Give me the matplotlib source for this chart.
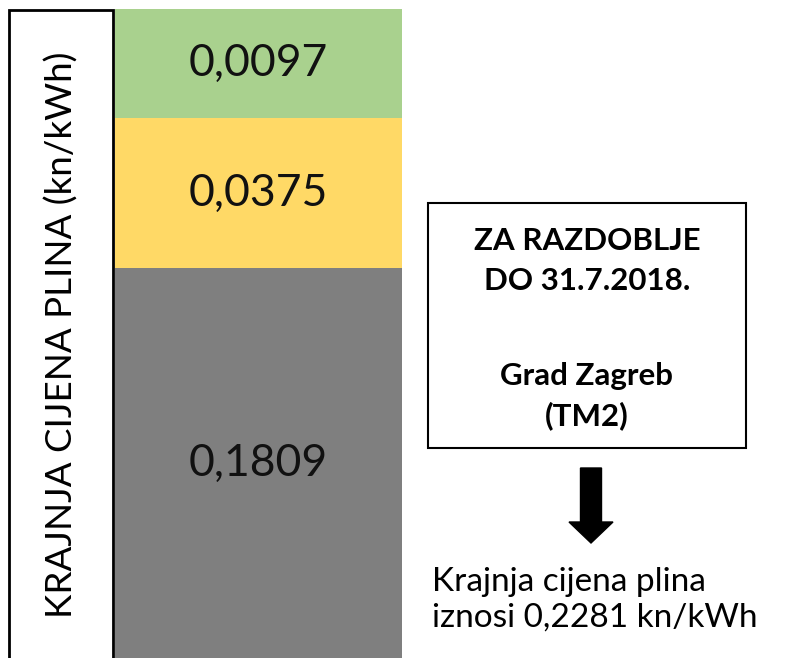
import matplotlib
matplotlib.use("Agg")
import matplotlib.pyplot as plt
from matplotlib.patches import Rectangle, FancyArrow

# Data
components = ["Osnovna cijena", "Naknada", "Ostalo"]
values = [0.1809, 0.0375, 0.0097]
value_labels = ["0,1809", "0,0375", "0,0097"]
# schematic (not-to-scale) segment heights as drawn in the reference
display_heights = [390, 150, 109]
colors = ["#7f7f7f", "#ffd966", "#a9d18e"]
total_label = "Krajnja cijena plina\niznosi 0,2281 kn/kWh"
axis_label = "KRAJNJA CIJENA PLINA (kn/kWh)"
box_text_1 = "ZA RAZDOBLJE\nDO 31.7.2018."
box_text_2 = "Grad Zagreb\n(TM2)"

W, H = 792, 658
fig = plt.figure(figsize=(W / 100, H / 100), dpi=100)
plt.rcParams['font.family'] = ['Lato', 'DejaVu Sans']

def fx(px):
    return px / W

def fy(py):
    return 1 - py / H

# Bar axes
ax = fig.add_axes([fx(115), 0, fx(402) - fx(115), fy(9)])
bottom = 0
for h, c, lab in zip(display_heights, colors, value_labels):
    ax.bar(0, h, bottom=bottom, width=1.0, color=c, edgecolor='none')
    ax.text(0, bottom + h / 2, lab, ha='center', va='center', fontsize=32, color='#111111')
    bottom += h
ax.set_xlim(-0.5, 0.5)
ax.set_ylim(0, sum(display_heights))
ax.axis('off')

# Left label box
fig.patches.append(Rectangle((fx(9), fy(700)), fx(113) - fx(9), fy(10) - fy(700),
                             transform=fig.transFigure, fill=False, edgecolor='black', lw=2))
fig.text(fx(62), fy(335), axis_label, rotation=90, ha='center', va='center', fontsize=26.5)

# Right info box
fig.patches.append(Rectangle((fx(428), fy(448)), fx(746) - fx(428), fy(203) - fy(448),
                             transform=fig.transFigure, fill=False, edgecolor='black', lw=1.5))
fig.text(fx(587), fy(261), box_text_1, ha='center', va='center', fontsize=22.5,
         fontweight='bold', linespacing=1.5)
fig.text(fx(587), fy(396), box_text_2, ha='center', va='center', fontsize=22.5,
         fontweight='bold', linespacing=1.5)

# Arrow
fig.patches.append(FancyArrow(fx(591), fy(468), 0, fy(543) - fy(468), width=fx(602) - fx(581),
                              head_width=fx(613) - fx(569), head_length=(fy(468) - fy(543)) * 0.28,
                              length_includes_head=True, transform=fig.transFigure,
                              color='black'))

fig.text(fx(432), fy(600), total_label, ha='left', va='center', fontsize=24, linespacing=1.25)

fig.savefig("out.png", dpi=100)
